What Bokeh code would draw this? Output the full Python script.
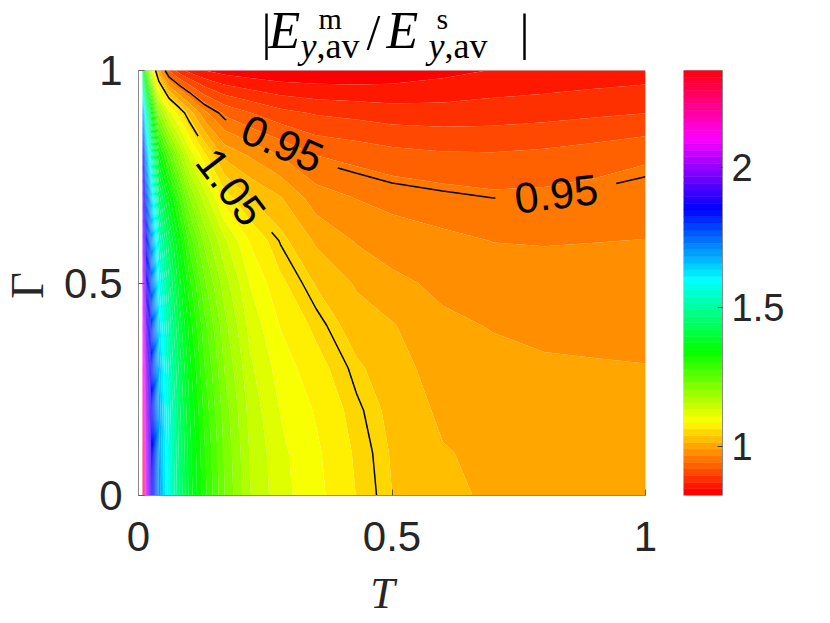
import colorsys
import numpy as np
from bokeh.plotting import figure
from bokeh.plotting.contour import contour_data
from bokeh.models import Range1d, FixedTicker, ColumnDataSource, BoxAnnotation
from bokeh.layouts import row, column
from bokeh.embed import file_html
from bokeh.resources import INLINE
from bokeh.core.properties import value

# ---------------- data ----------------
T_vals = [0.008, 0.015, 0.025, 0.04, 0.06, 0.08, 0.1, 0.13, 0.17, 0.22,
          0.28, 0.35, 0.43, 0.5, 0.6, 0.7, 0.8, 0.9, 1.0]
Gamma_vals = [0.0, 0.1, 0.2, 0.3, 0.4, 0.5, 0.6, 0.7, 0.8, 0.9, 1.0]

# |E_m / E_s| along T for each Gamma row
ratio_G00 = [2.34, 2.08, 1.88, 1.70, 1.57, 1.47, 1.39, 1.31, 1.23, 1.16, 1.12, 1.095, 1.063, 1.040, 1.022, 1.012, 1.006, 1.002, 1.000]
ratio_G01 = [2.28, 2.06, 1.87, 1.695, 1.565, 1.465, 1.385, 1.305, 1.226, 1.157, 1.117, 1.092, 1.060, 1.038, 1.018, 1.010, 1.004, 1.001, 0.999]
ratio_G02 = [2.23, 2.03, 1.855, 1.68, 1.555, 1.455, 1.375, 1.295, 1.218, 1.150, 1.110, 1.085, 1.054, 1.034, 1.011, 1.005, 1.000, 0.998, 0.997]
ratio_G03 = [2.18, 2.00, 1.83, 1.66, 1.535, 1.44, 1.36, 1.28, 1.205, 1.140, 1.100, 1.073, 1.044, 1.027, 1.004, 0.999, 0.995, 0.994, 0.993]
ratio_G04 = [2.13, 1.95, 1.80, 1.63, 1.51, 1.415, 1.34, 1.262, 1.19, 1.127, 1.086, 1.058, 1.028, 1.018, 0.997, 0.991, 0.988, 0.987, 0.987]
ratio_G05 = [2.08, 1.90, 1.76, 1.59, 1.475, 1.385, 1.31, 1.235, 1.17, 1.110, 1.069, 1.038, 1.013, 0.998, 0.987, 0.981, 0.979, 0.979, 0.979]
ratio_G06 = [2.02, 1.85, 1.71, 1.54, 1.43, 1.345, 1.27, 1.20, 1.14, 1.085, 1.048, 1.012, 0.990, 0.981, 0.974, 0.968, 0.967, 0.968, 0.969]
ratio_G07 = [1.95, 1.78, 1.64, 1.46, 1.36, 1.28, 1.21, 1.15, 1.075, 1.040, 1.018, 0.980, 0.968, 0.961, 0.955, 0.950, 0.951, 0.955, 0.959]
ratio_G08 = [1.87, 1.69, 1.53, 1.35, 1.26, 1.19, 1.13, 1.07, 1.010, 0.990, 0.968, 0.945, 0.937, 0.930, 0.925, 0.924, 0.927, 0.933, 0.941]
ratio_G09 = [1.72, 1.54, 1.37, 1.20, 1.12, 1.075, 1.03, 0.975, 0.940, 0.922, 0.905, 0.895, 0.890, 0.885, 0.884, 0.886, 0.889, 0.893, 0.897]
ratio_G10 = [1.42, 1.27, 1.12, 1.00, 0.92, 0.885, 0.866, 0.850, 0.840, 0.834, 0.830, 0.829, 0.830, 0.834, 0.842, 0.851, 0.855, 0.859, 0.862]

color_min = 0.826
color_max = 2.347
n_colors = 64

line_levels = [0.95, 1.05]
label_levels = [1.05, 0.95, 0.95]
label_texts = ["1.05", "0.95", "0.95"]
label_fracs = [0.287, 0.273, 0.823]

x_ticks = [0, 0.5, 1]
x_tick_labels = ["0", "0.5", "1"]
y_ticks = [0, 0.5, 1]
y_tick_labels = ["0", "0.5", "1"]
cbar_ticks = [1, 1.5, 2]
cbar_tick_labels = ["1", "1.5", "2"]

x_title = "T"
y_title = "Γ"

# ---------------- derived ----------------
Z = np.array([ratio_G00, ratio_G01, ratio_G02, ratio_G03, ratio_G04, ratio_G05,
              ratio_G06, ratio_G07, ratio_G08, ratio_G09, ratio_G10])
levels = np.linspace(color_min, color_max, n_colors + 1)


def hsv_hex(h):
    r, g, b = colorsys.hsv_to_rgb(h, 1.0, 1.0)
    return "#%02x%02x%02x" % (int(round(r * 255)), int(round(g * 255)), int(round(b * 255)))


palette = [hsv_hex(i / n_colors) for i in range(n_colors)]

# ---------------- layout geometry (page pixels) ----------------
TOP = 70              # space above the axes box (title lives there)
YLAB_W = 58           # strip left of the plot
FW, FH = 507, 425     # axes box
P_LEFT, P_RIGHT, P_BOTTOM = 80, 38, 74
CB_W, CB_RIGHT = 39, 75
TOTAL_W = YLAB_W + P_LEFT + FW + P_RIGHT + CB_W + CB_RIGHT
FRAME_H = TOP + FH
XLAB_H = 52
SANS = "Liberation Sans"
SERIF = "Liberation Serif"
AX_GRAY = "#8a8a8a"
TXT = "#262626"
MID = 0.3375   # baseline -> centre offset (em) for Liberation fonts
Y_TOP = 1 + TOP / FH
CB_TOP = color_max + (color_max - color_min) * TOP / FH


def strip(w, h, x0, x1, y0, y1, bottom=0):
    f = figure(x_range=Range1d(x0, x1), y_range=Range1d(y0, y1),
               frame_width=w, frame_height=h, min_border=0, min_border_bottom=bottom,
               x_axis_location=None, y_axis_location=None,
               output_backend="svg", toolbar_location=None)
    f.outline_line_color = None
    f.grid.visible = False
    f.background_fill_color = "white"
    f.border_fill_color = "white"
    return f


def px2x(px):
    return (px - (YLAB_W + P_LEFT)) / FW


def py2y(py):
    return (TOP + FH - py) / FH


# ---------------- main plot ----------------
p = figure(x_range=Range1d(0, 1), y_range=Range1d(0, Y_TOP),
           frame_width=FW, frame_height=FRAME_H,
           min_border=0, min_border_left=P_LEFT, min_border_right=P_RIGHT,
           min_border_top=0, min_border_bottom=P_BOTTOM,
           output_backend="svg", toolbar_location=None)
p.background_fill_color = "white"
p.border_fill_color = "white"
p.grid.visible = False
p.outline_line_color = None

p.contour(T_vals, Gamma_vals, Z, levels, fill_color=palette)

cd = contour_data(T_vals, Gamma_vals, Z, line_levels, want_fill=False, want_line=True)


def split_nan(ax, ay):
    ax = np.asarray(ax, float)
    ay = np.asarray(ay, float)
    bad = np.isnan(ax) | np.isnan(ay)
    out = []
    cur_x, cur_y = [], []
    for xv, yv, b in zip(ax, ay, bad):
        if b:
            if len(cur_x) > 1:
                out.append((np.array(cur_x), np.array(cur_y)))
            cur_x, cur_y = [], []
        else:
            cur_x.append(xv)
            cur_y.append(yv)
    if len(cur_x) > 1:
        out.append((np.array(cur_x), np.array(cur_y)))
    return out


def plen(s):
    return np.sum(np.hypot(np.diff(s[0]) * FW, np.diff(s[1]) * FH))


line_xs, line_ys = [], []
lab_x, lab_y, lab_a, lab_t = [], [], [], []
HALF_GAP = 61.0
for li, lev in enumerate(line_levels):
    segs = split_nan(cd.line_data.xs[li], cd.line_data.ys[li])
    if not segs:
        continue
    segs.sort(key=plen, reverse=True)
    for k, (sx, sy) in enumerate(segs):
        if k > 0:
            line_xs.append(sx)
            line_ys.append(sy)
            continue
        px, py = sx * FW, sy * FH
        if py[0] < py[-1]:
            px, py = px[::-1], py[::-1]
        d = np.hypot(np.diff(px), np.diff(py))
        keep = np.concatenate([[True], d > 1e-9])
        px, py = px[keep], py[keep]
        cum = np.concatenate([[0.0], np.cumsum(np.hypot(np.diff(px), np.diff(py)))])
        L = cum[-1]
        gaps = []
        for lv, txt, fr in zip(label_levels, label_texts, label_fracs):
            if abs(lv - lev) > 1e-9:
                continue
            c = fr * L
            a, b = max(c - HALF_GAP, 0), min(c + HALF_GAP, L)
            gaps.append((a, b))
            cx, cy = np.interp(c, cum, px), np.interp(c, cum, py)
            ax_, ay_ = np.interp(a, cum, px), np.interp(a, cum, py)
            bx_, by_ = np.interp(b, cum, px), np.interp(b, cum, py)
            ang = np.arctan2(by_ - ay_, bx_ - ax_)
            if ang > np.pi / 2:
                ang -= np.pi
            if ang < -np.pi / 2:
                ang += np.pi
            lab_x.append(cx / FW)
            lab_y.append(cy / FH)
            lab_a.append(ang)
            lab_t.append(txt)
        gaps.sort()
        keeps = []
        start = 0.0
        for a, b in gaps:
            if a > start:
                keeps.append((start, a))
            start = b
        if start < L:
            keeps.append((start, L))
        for a, b in keeps:
            if b - a < 1:
                continue
            inner = (cum > a) & (cum < b)
            kx = np.concatenate([[np.interp(a, cum, px)], px[inner], [np.interp(b, cum, px)]])
            ky = np.concatenate([[np.interp(a, cum, py)], py[inner], [np.interp(b, cum, py)]])
            line_xs.append(kx / FW)
            line_ys.append(ky / FH)

p.multi_line(xs=line_xs, ys=line_ys, line_color="black", line_width=1.5)

lab_src = ColumnDataSource(dict(x=lab_x, y=lab_y, angle=lab_a, text=lab_t))
p.text(x="x", y="y", text="text", angle="angle", source=lab_src,
       text_font=value(SANS), text_font_size="43px", text_color="black",
       text_align="center", text_baseline="middle")

# axes box
p.add_layout(BoxAnnotation(left=0, right=1, bottom=0, top=1, fill_color=None,
                           line_color=AX_GRAY, line_width=1))

p.xaxis.ticker = FixedTicker(ticks=x_ticks)
p.yaxis.ticker = FixedTicker(ticks=y_ticks)
p.yaxis.bounds = (0, 1)
p.xaxis.major_label_overrides = dict(zip(x_ticks, x_tick_labels))
p.yaxis.major_label_overrides = dict(zip(y_ticks, y_tick_labels))
for ax in (p.xaxis, p.yaxis):
    ax.axis_line_color = AX_GRAY
    ax.major_tick_line_color = "#555555"
    ax.major_tick_in = 6
    ax.major_tick_out = 0
    ax.minor_tick_line_color = None
    ax.major_label_text_font = SANS
    ax.major_label_text_font_size = "42px"
    ax.major_label_text_color = TXT
p.xaxis.major_label_standoff = 26
p.yaxis.major_label_standoff = 16

# title  |E^m_{y,av} / E^s_{y,av}|   (text, left x, baseline y in page px, font px, style)
title_parts = [
    ("|", 261, 48, 50, "normal"),
    ("E", 268, 48, 52, "italic"),
    ("m", 318, 28, 30, "normal"),
    ("y", 300, 58, 36, "italic"),
    (",av", 316, 58, 36, "normal"),
    ("/", 366, 48, 50, "normal"),
    ("E", 386, 48, 52, "italic"),
    ("s", 436, 28, 30, "normal"),
    ("y", 428, 58, 36, "italic"),
    (",av", 444, 58, 36, "normal"),
    ("|", 519, 48, 50, "normal"),
]
for txt, tx, ty, fs, st in title_parts:
    p.text(x=[px2x(tx)], y=[py2y(ty - MID * fs)], text=[txt], text_font=value(SERIF),
           text_font_style=st, text_font_size="%dpx" % fs, text_color="black",
           text_align="left", text_baseline="middle")

# ---------------- colour bar (same frame height so the row aligns) ----------------
cb = figure(x_range=Range1d(0, 1), y_range=Range1d(color_min, CB_TOP),
            frame_width=CB_W, frame_height=FRAME_H,
            min_border=0, min_border_left=0, min_border_right=CB_RIGHT,
            min_border_top=0, min_border_bottom=P_BOTTOM,
            x_axis_location=None, y_axis_location="right",
            output_backend="svg", toolbar_location=None)
cb.background_fill_color = "white"
cb.border_fill_color = "white"
cb.grid.visible = False
cb.outline_line_color = None
cb.quad(left=0, right=1, bottom=levels[:-1], top=levels[1:],
        fill_color=palette, line_color=palette, line_width=0.6)
cb.add_layout(BoxAnnotation(left=0, right=1, bottom=color_min, top=color_max,
                            fill_color=None, line_color=AX_GRAY, line_width=1))
cb.yaxis.ticker = FixedTicker(ticks=cbar_ticks)
cb.yaxis.bounds = (color_min, color_max)
cb.yaxis.major_label_overrides = dict(zip(cbar_ticks, cbar_tick_labels))
cb.yaxis.axis_line_color = AX_GRAY
cb.yaxis.major_tick_line_color = "#333333"
cb.yaxis.major_tick_in = 5
cb.yaxis.major_tick_out = 0
cb.yaxis.minor_tick_line_color = None
cb.yaxis.major_label_text_font = SANS
cb.yaxis.major_label_text_font_size = "38px"
cb.yaxis.major_label_text_color = TXT
cb.yaxis.major_label_standoff = 9

# ---------------- axis-title strips (page pixel coordinates) ----------------
ylab_fig = strip(YLAB_W, FRAME_H, 0, YLAB_W, FRAME_H, 0, bottom=P_BOTTOM)
ylab_fig.text(x=[26.5], y=[285], text=[y_title], angle=np.pi / 2,
              text_font=value(SERIF), text_font_size="46px", text_color=TXT,
              text_align="center", text_baseline="middle")

y0 = FRAME_H + P_BOTTOM
xlab_fig = strip(TOTAL_W, XLAB_H, 0, TOTAL_W, y0 + XLAB_H, y0)
xlab_fig.text(x=[382], y=[608 - MID * 44], text=[x_title], text_font=value(SERIF),
              text_font_style="italic", text_font_size="44px", text_color=TXT,
              text_align="center", text_baseline="middle")

layout = column(row(ylab_fig, p, cb), xlab_fig)
open("out.html", "w").write(file_html(layout, INLINE))
